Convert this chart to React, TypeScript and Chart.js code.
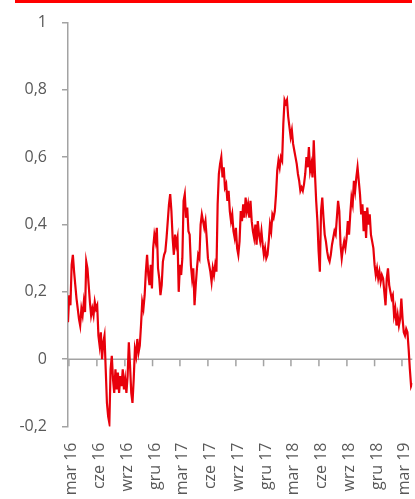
import React, { useEffect, useRef } from 'react';
import { Chart, registerables } from 'chart.js';
Chart.register(...registerables);

// Series sampled every 4 days starting at START_DATE
const START_DATE = '2016-02-27';
const STEP_DAYS = 4;
const values: number[] = [
  0.11, 0.19, 0.16, 0.28, 0.31, 0.26, 0.22, 0.18, 0.15, 0.12,
  0.10, 0.15, 0.13, 0.17, 0.14, 0.29, 0.27, 0.22, 0.17, 0.13,
  0.15, 0.13, 0.17, 0.15, 0.16, 0.07, 0.04, 0.08, 0.00, 0.05,
  0.07, -0.03, -0.13, -0.17, -0.19, -0.03, 0.01, -0.06, -0.10, -0.03,
  -0.09, -0.04, -0.10, -0.05, -0.08, -0.03, -0.09, -0.06, -0.10, -0.05,
  0.05, -0.02, -0.10, -0.13, -0.06, 0.03, 0.01, 0.06, 0.02, 0.04,
  0.10, 0.17, 0.15, 0.19, 0.26, 0.31, 0.25, 0.22, 0.28, 0.21,
  0.33, 0.37, 0.35, 0.39, 0.27, 0.24, 0.19, 0.22, 0.29, 0.31,
  0.32, 0.36, 0.41, 0.46, 0.49, 0.44, 0.36, 0.31, 0.37, 0.34,
  0.36, 0.20, 0.28, 0.25, 0.30, 0.47, 0.49, 0.42, 0.45, 0.38,
  0.37, 0.28, 0.24, 0.27, 0.16, 0.22, 0.27, 0.31, 0.30, 0.40,
  0.43, 0.41, 0.39, 0.41, 0.36, 0.30, 0.28, 0.26, 0.23, 0.27,
  0.25, 0.28, 0.26, 0.46, 0.55, 0.58, 0.60, 0.54, 0.57, 0.51,
  0.52, 0.47, 0.50, 0.44, 0.41, 0.43, 0.38, 0.36, 0.39, 0.33,
  0.31, 0.35, 0.44, 0.41, 0.46, 0.42, 0.48, 0.44, 0.46, 0.42,
  0.47, 0.41, 0.38, 0.36, 0.40, 0.34, 0.41, 0.37, 0.35, 0.38,
  0.34, 0.31, 0.33, 0.30, 0.31, 0.35, 0.40, 0.38, 0.43, 0.42,
  0.44, 0.49, 0.56, 0.59, 0.57, 0.60, 0.59, 0.70, 0.77, 0.76,
  0.77, 0.72, 0.69, 0.66, 0.68, 0.64, 0.62, 0.60, 0.58, 0.55,
  0.53, 0.50, 0.51, 0.50, 0.52, 0.55, 0.60, 0.57, 0.63, 0.56,
  0.58, 0.54, 0.65, 0.55, 0.47, 0.41, 0.32, 0.26, 0.44, 0.48,
  0.42, 0.37, 0.35, 0.32, 0.30, 0.29, 0.31, 0.34, 0.36, 0.38,
  0.37, 0.42, 0.47, 0.44, 0.34, 0.30, 0.33, 0.35, 0.33, 0.36,
  0.41, 0.37, 0.43, 0.48, 0.46, 0.53, 0.50, 0.54, 0.57, 0.53,
  0.49, 0.43, 0.46, 0.38, 0.44, 0.36, 0.45, 0.40, 0.43, 0.37,
  0.35, 0.33, 0.28, 0.25, 0.27, 0.24, 0.26, 0.23, 0.25, 0.24,
  0.20, 0.16, 0.24, 0.27, 0.22, 0.20, 0.18, 0.19, 0.13, 0.15,
  0.10, 0.13, 0.10, 0.12, 0.18, 0.12, 0.08, 0.07, 0.09, 0.08, 0.03, -0.03, -0.08, -0.07,
];

const tickDates = [
  '2016-03-01', '2016-06-01', '2016-09-01', '2016-12-01',
  '2017-03-01', '2017-06-01', '2017-09-01', '2017-12-01',
  '2018-03-01', '2018-06-01', '2018-09-01', '2018-12-01',
  '2019-03-01',
];
const tickLabels = [
  'mar 16', 'cze 16', 'wrz 16', 'gru 16',
  'mar 17', 'cze 17', 'wrz 17', 'gru 17',
  'mar 18', 'cze 18', 'wrz 18', 'gru 18',
  'mar 19',
];
const yTicks = [-0.2, 0, 0.2, 0.4, 0.6, 0.8, 1];
const yTickLabels = ['-0,2', '0', '0,2', '0,4', '0,6', '0,8', '1'];

const ORIGIN = Date.UTC(2016, 2, 1);
function dayNum(s: string): number {
  const [y, m, d] = s.split('-').map(Number);
  return (Date.UTC(y, m - 1, d) - ORIGIN) / 86400000;
}

const AXIS_COLOR = '#a3a3a3';
const TEXT_COLOR = '#595959';
const LINE_COLOR = '#e8000b';
const FONT = { family: '"Open Sans", sans-serif', size: 16 };

const zeroAxisPlugin = {
  id: 'zeroAxis',
  beforeDatasetsDraw(chart: any) {
    const { ctx, chartArea, scales } = chart;
    const y0 = scales.y.getPixelForValue(0);
    ctx.save();
    ctx.strokeStyle = AXIS_COLOR;
    ctx.lineWidth = 1.5;
    ctx.beginPath();
    ctx.moveTo(chartArea.left, y0);
    ctx.lineTo(chartArea.right, y0);
    for (const t of scales.x.ticks) {
      const px = scales.x.getPixelForValue(t.value);
      ctx.moveTo(px, y0);
      ctx.lineTo(px, y0 + 7);
    }
    ctx.stroke();
    ctx.restore();
  },
};

export default function App() {
  const canvasRef = useRef<HTMLCanvasElement | null>(null);

  useEffect(() => {
    if (!canvasRef.current) return;
    const start = dayNum(START_DATE);
    const data = values.map((v, i) => ({ x: start + i * STEP_DAYS, y: v }));
    const end = start + (values.length - 1) * STEP_DAYS;
    const chart = new Chart(canvasRef.current, {
      type: 'line',
      data: {
        datasets: [
          {
            data,
            borderColor: LINE_COLOR,
            borderWidth: 2.2,
            pointRadius: 0,
            tension: 0,
            fill: false,
          },
        ],
      },
      options: {
        animation: false,
        responsive: false,
        devicePixelRatio: 1,
        layout: { padding: { top: 22.5, right: 2.7, left: 0, bottom: 0 } },
        plugins: { legend: { display: false }, tooltip: { enabled: false } },
        scales: {
          x: {
            type: 'linear',
            min: start,
            max: end,
            grid: { display: false, drawTicks: false },
            border: { display: false },
            afterBuildTicks: (s: any) => {
              s.ticks = tickDates.map((d) => ({ value: dayNum(d) }));
            },
            afterFit: (s: any) => {
              s.height = 72.5;
              s.paddingLeft = 0;
              s.paddingRight = 0;
            },
            ticks: {
              autoSkip: false,
              minRotation: 90,
              maxRotation: 90,
              padding: 16,
              labelOffset: 2.5,
              color: TEXT_COLOR,
              font: FONT,
              callback: (_v: any, i: number) => tickLabels[i],
            },
          },
          y: {
            min: -0.2,
            max: 1,
            afterBuildTicks: (s: any) => {
              s.ticks = yTicks.map((v) => ({ value: v }));
            },
            afterFit: (s: any) => {
              s.width = 68;
              s.paddingTop = 0;
              s.paddingBottom = 0;
            },
            grid: {
              drawOnChartArea: false,
              drawTicks: true,
              tickLength: 6,
              color: AXIS_COLOR,
              lineWidth: 1.5,
            },
            border: { display: true, color: AXIS_COLOR, width: 1.5 },
            ticks: {
              padding: 15,
              color: TEXT_COLOR,
              font: FONT,
              callback: (_v: any, i: number) => yTickLabels[i],
            },
          },
        },
      },
      plugins: [zeroAxisPlugin],
    } as any);
    return () => chart.destroy();
  }, []);

  return (
    <div style={{ position: 'absolute', left: 0, top: 0, width: 415, height: 499, background: '#fff' }}>
      <div style={{ position: 'absolute', left: 15, top: 0, width: 397, height: 3, background: '#ff0000' }} />
      <canvas
        ref={canvasRef}
        width={415}
        height={499}
        style={{ position: 'absolute', left: 0, top: 0, width: 415, height: 499 }}
      />
    </div>
  );
}
